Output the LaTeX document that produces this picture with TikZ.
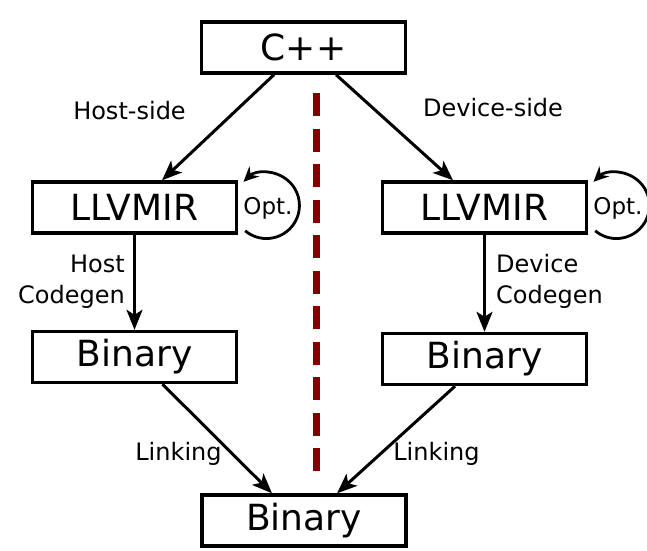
\documentclass[tikz,border=0pt]{standalone}
\usepackage{fontspec}
\setmainfont{DejaVu Sans}
\usetikzlibrary{arrows.meta}
\definecolor{sepred}{RGB}{128,0,0}
\begin{document}
\begin{tikzpicture}[x=1pt,y=-1pt,
 box/.style={draw, line width=3.4pt, minimum width=204pt, minimum height=51pt, inner sep=0pt, font=\fontsize{36}{42}\selectfont},
 lab/.style={inner sep=0pt, font=\fontsize{24}{31}\selectfont},
 optlab/.style={inner sep=0pt, font=\fontsize{23}{26}\selectfont},
 arr/.style={line width=3pt, -{Stealth[length=20pt,width=16pt,inset=5pt]}},
 optarr/.style={line width=2.8pt, -{Stealth[length=15pt,width=14pt,inset=5pt]}},
 sepline/.style={draw=sepred, line width=7pt, dash pattern=on 23pt off 12.5pt},
]
\useasboundingbox (0,0) rectangle (647,550);
% boxes
\node[box] (cpp) at (303.5,47.5) {C++};
\node[box] (llvmL) at (134.5,207.5) {LLVMIR};
\node[box] (llvmR) at (484.5,207.5) {LLVMIR};
\node[box] (binL) at (134.5,357) {Binary};
\node[box] (binR) at (484.5,359) {Binary};
\node[box] (bin) at (304,520.5) {Binary};
% labels
\node[lab, anchor=base] (hs) at (129.5,119) {Host-side};
\node[lab, anchor=base] (ds) at (493,116.5) {Device-side};
\node[lab, anchor=base] (lkL) at (178.5,460.5) {Linking};
\node[lab, anchor=base] (lkR) at (436.5,460.5) {Linking};
\node[lab, align=right, anchor=east] (hc) at (125,281.3) {Host\\Codegen};
\node[lab, align=left, anchor=west] (dc) at (496,281.7) {Device\\Codegen};
\node[optlab] (optL) at (268,208.5) {Opt.};
\node[optlab] (optR) at (618,208.5) {Opt.};
% separator
\coordinate (dtop) at (316,93);
\coordinate (dbot) at (316,471);
\path[sepline] (dtop) -- (dbot);
% connectors
\draw[arr] ([xshift=-29.5pt]cpp.south) -- ([xshift=27.5pt]llvmL.north);
\draw[arr] ([xshift=32.5pt]cpp.south) -- ([xshift=-31.5pt]llvmR.north);
\draw[arr] (llvmL.south) -- (binL.north);
\draw[arr] (llvmR.south) -- (binR.north);
\draw[arr] ([xshift=28pt]binL.south) -- ([xshift=-32pt]bin.north);
\draw[arr] ([xshift=-29.5pt]binR.south) -- ([xshift=33pt]bin.north);
% optimisation loops
\draw[optarr] ([shift={(7,23.3)}]llvmL.east) arc[start angle=130,end angle=-134,radius=33];
\draw[optarr] ([shift={(7,23.3)}]llvmR.east) arc[start angle=130,end angle=-134,radius=33];
\end{tikzpicture}
\end{document}
